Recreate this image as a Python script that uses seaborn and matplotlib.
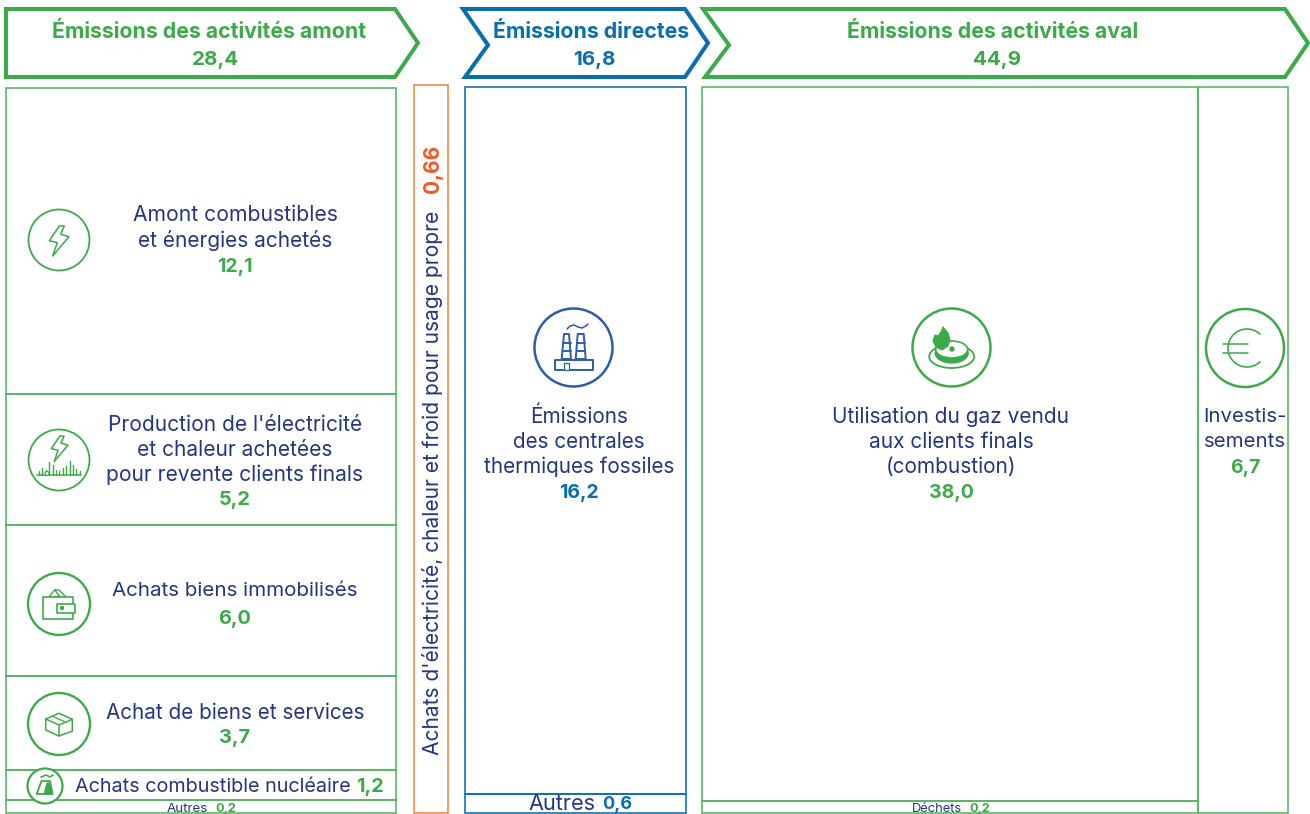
import numpy as np
import pandas as pd
import seaborn as sns
import matplotlib
matplotlib.use("Agg")
import matplotlib.pyplot as plt
from matplotlib.patches import Polygon, Circle, Ellipse, Arc, Rectangle

# ---- data ----
upstream_total = 28.4
direct_total = 16.8
downstream_total = 44.9
own_use_value = 0.66
upstream_values = [12.1, 5.2, 6.0, 3.7, 1.2, 0.2]
direct_values = [16.2, 0.6]
downstream_values = [38.0, 0.2]
invest_values = [6.7]

sns.set_theme(style="white")
FONT = "Inter"
plt.rcParams["font.family"] = [FONT, "DejaVu Sans"]

GREEN = "#3DAA49"
CELL_GREEN = "#55B562"
BLUE = "#0A6DB0"
NAVY = "#24367F"
ORANGE = "#F0853F"
ORANGE_V = "#F05A22"
ICON_BLUE = "#2F5CA8"


def fr(v, nd=1):
    return f"{v:.{nd}f}".replace(".", ",")


fig = plt.figure(figsize=(13.10, 8.14), dpi=100)
ax = fig.add_axes([0, 0, 1, 1])


def column(values, x0, x1, top, bottom, color, floor=0.0, lw=1.15):
    """Stack one column of cells; tiny cells get a minimal legible height."""
    vals = np.array(values, dtype=float)
    small = vals < 1.0
    free = (bottom - top) - floor * small.sum()
    scale = free / vals[~small].sum()
    heights = np.where(small, floor, vals * scale)
    tops = top + np.concatenate([[0], np.cumsum(heights)[:-1]])
    for h, t in zip(heights, tops):
        sns.barplot(x=[(x0 + x1) / 2], y=[h], width=x1 - x0, bottom=t,
                    native_scale=True, fill=False, color=color,
                    linewidth=lw, errorbar=None, ax=ax)
    return tops, heights


column(upstream_values, 6, 396, 88, 813, CELL_GREEN, floor=13)
column(direct_values, 465, 686, 87, 813, BLUE, floor=19)
column(downstream_values, 702, 1198, 87, 813, CELL_GREEN, floor=12)
column(invest_values, 1198, 1288, 87, 813, CELL_GREEN)
sns.barplot(x=[431], y=[728], width=34, bottom=85, native_scale=True, fill=False,
            color=ORANGE, linewidth=1.15, errorbar=None, ax=ax)

ax.set_xlim(0, 1310)
ax.set_ylim(814, 0)
ax.axis("off")


def chevron(points, color):
    ax.add_patch(Polygon(points, closed=True, fill=False, edgecolor=color,
                         linewidth=2.9, joinstyle="miter"))


chevron([(6, 9), (395, 9), (418, 43), (395, 77), (6, 77)], GREEN)
chevron([(463, 9), (685, 9), (708, 43), (685, 77), (465, 77), (488, 45)], BLUE)
chevron([(703, 9), (1285, 9), (1308, 43), (1285, 77), (705, 77), (729, 45)], GREEN)


def T(x, y, s, color=NAVY, size=15.0, bold=False, ha="center", rot=0):
    dx, dy = (1.5, 0) if rot else (0, 1.2)
    ax.text(x + dx, y + dy, s, color=color, fontsize=size, ha=ha, va="center",
            fontweight="bold" if bold else "normal", rotation=rot,
            rotation_mode="anchor", family=FONT)


HS = 15.3
VS = 14.0
T(209.5, 30.5, "Émissions des activités amont", GREEN, HS, True)
T(215.5, 58.5, fr(upstream_total), GREEN, 14.8, True)
T(591, 30.5, "Émissions directes", BLUE, HS, True)
T(594, 58.5, fr(direct_total), BLUE, 14.8, True)
T(993, 30.5, "Émissions des activités aval", GREEN, HS, True)
T(996.5, 58.5, fr(downstream_total), GREEN, 14.8, True)

CX = 235
T(CX, 214, "Amont combustibles", size=15.2)
T(CX, 239, "et énergies achetés", size=15.0)
T(CX, 266, fr(upstream_values[0]), GREEN, VS, True)
T(CX, 424, "Production de l'électricité", size=15.1)
T(CX, 449, "et chaleur achetées", size=15.1)
T(CX, 474, "pour revente clients finals", size=15.1)
T(CX, 499, fr(upstream_values[1]), GREEN, 14.4, True)
T(CX, 590, "Achats biens immobilisés", size=14.8)
T(CX, 618, fr(upstream_values[2]), GREEN, 14.4, True)
T(CX, 712, "Achat de biens et services", size=14.9)
T(CX, 737, fr(upstream_values[3]), GREEN, 14.4, True)
T(75, 786, "Achats combustible nucléaire", size=14.25, ha="left")
T(356, 786, fr(upstream_values[4]), GREEN, 14.4, True, ha="left")
T(167, 807.5, "Autres", size=9.6, ha="left")
T(215, 807.5, fr(upstream_values[5]), GREEN, 9.2, True, ha="left")

T(431, 483, "Achats d'électricité, chaleur et froid pour usage propre", size=15.1, rot=90)
T(431, 169, fr(own_use_value, 2), ORANGE_V, 15.0, True, rot=90)

MX = 579
T(MX, 416, "Émissions", size=14.9)
T(MX, 441, "des centrales", size=14.9)
T(MX, 466, "thermiques fossiles", size=14.9)
T(MX, 492, fr(direct_values[0]), BLUE, VS, True)
T(528, 803, "Autres", size=15.6, ha="left")
T(602, 803, fr(direct_values[1]), BLUE, 13.0, True, ha="left")

RX = 951
T(RX, 416, "Utilisation du gaz vendu")
T(RX, 441, "aux clients finals")
T(RX, 466, "(combustion)")
T(RX, 492, fr(downstream_values[0]), GREEN, VS, True)
T(912, 807.5, "Déchets", size=9.3, ha="left")
T(969, 807.5, fr(downstream_values[1]), GREEN, 9.2, True, ha="left")

T(1245, 416, "Investis-", size=14.7)
T(1245, 441, "sements", size=14.7)
T(1245, 467, fr(invest_values[0]), GREEN, VS, True)


# ---- icons ----
def ring(cx, cy, r, color=GREEN, lw=1.6):
    ax.add_patch(Circle((cx, cy), r, facecolor="white", edgecolor=color, linewidth=lw, zorder=5))


def line(pts, color=GREEN, lw=1.1):
    p = np.array(pts, dtype=float)
    ax.plot(p[:, 0], p[:, 1], color=color, lw=lw, zorder=6, solid_capstyle="round")


def poly(pts, color=GREEN, lw=1.1, fc="white"):
    ax.add_patch(Polygon(pts, closed=True, facecolor=fc, edgecolor=color, linewidth=lw,
                         zorder=6, joinstyle="round"))


BOLT = np.array([(0.3, -14), (-9.7, 0.7), (-1.7, 2.7), (-6.3, 16), (10, -3.3), (1.7, -5.7), (5.3, -14)])

ring(59, 240, 30.5, lw=1.3)
poly(BOLT + (59, 240), lw=1.1)

ring(59, 460, 30.5, lw=1.3)
poly(BOLT * 0.85 + (59.5, 448), lw=1.1)
line([(37, 475), (81, 475)], lw=1.1)
for sx, sh in zip(np.arange(39, 80, 3.4), [4, 7, 5, 13, 10, 5, 4, 7, 9, 14, 10, 6, 4]):
    line([(sx, 475), (sx, 475 - sh)], lw=1.0)
ax.add_patch(Circle((47, 473.5), 2, facecolor="white", edgecolor=GREEN, lw=0.9, zorder=7))

ring(59, 604, 31, lw=1.7)
poly([(49, 597), (55, 589.5), (60, 597)], lw=1.0)
poly([(55, 590), (59, 590), (66, 597), (60, 597)], lw=1.0)
poly([(42.7, 596.7), (72.7, 596.7), (72.7, 619), (42.7, 619)], lw=1.2)
poly([(57, 604), (75, 604), (75, 613), (57, 613)], lw=1.2)
ax.add_patch(Circle((62, 608), 1.5, color=GREEN, zorder=7))

ring(59, 724, 31, lw=1.7)
poly([(45.7, 719), (59, 713.3), (72.3, 719.3), (72.3, 731), (59, 736), (45.7, 730)], lw=1.1)
line([(45.7, 719), (59, 725), (72.3, 719.3)])
line([(59, 725), (59, 736)])
line([(52, 716), (65, 722)], lw=0.9)

ring(45, 786, 17.5, lw=1.6)
poly([(36.7, 794), (41.5, 781), (50, 781), (52.5, 794)], lw=1.3)
poly([(44, 794), (47, 783), (50, 783), (52.5, 794)], fc=GREEN, lw=0.8)
line([(41, 777), (46, 775), (50, 777), (53, 775)], lw=1.2)

ring(573.5, 347.5, 39, ICON_BLUE, lw=1.8)
poly([(561.7, 359), (571, 359), (569, 334), (564, 334)], ICON_BLUE, lw=1.4)
poly([(575.7, 359), (585.7, 359), (583.7, 334), (577.7, 334)], ICON_BLUE, lw=1.4)
for yy in (343, 351):
    line([(562.5, yy), (570.5, yy)], ICON_BLUE, 1.4)
    line([(576.5, yy), (585, yy)], ICON_BLUE, 1.4)
poly([(555, 360), (593.3, 360), (593.3, 370), (555, 370)], ICON_BLUE, lw=1.4)
poly([(564, 363), (569, 363), (569, 370), (564, 370)], ICON_BLUE, lw=0.9)
line([(567, 329), (570, 326), (574, 325), (578, 327), (582, 328), (586, 326), (588, 324)], ICON_BLUE, 1.1)

ring(951.5, 347.5, 39, lw=1.8)
ax.add_patch(Ellipse((951.7, 356.5), 45, 23, fill=False, edgecolor=GREEN, lw=1.3, zorder=6))
ax.add_patch(Ellipse((951.7, 353), 33, 20, facecolor=GREEN, edgecolor=GREEN, lw=1, zorder=6))
ax.add_patch(Ellipse((951.7, 349.5), 32, 17, facecolor="white", edgecolor=GREEN, lw=1.2, zorder=6))
ax.add_patch(Circle((952, 349), 2, color=GREEN, zorder=7))
poly([(943, 327), (948, 333), (950, 340), (948, 346), (942, 350), (936, 347), (933, 341),
      (935, 335), (938, 336), (941, 332)], fc=GREEN, lw=0.8)

ring(1245, 348, 39, lw=1.8)
ax.add_patch(Arc((1247, 348), 38, 38, theta1=45, theta2=315, edgecolor=GREEN, lw=1.2, zorder=6))
line([(1223, 344.3), (1248, 344.3)], lw=1.1)
line([(1223, 352.7), (1248, 352.7)], lw=1.1)

fig.savefig("out.png", dpi=100, facecolor="white")
